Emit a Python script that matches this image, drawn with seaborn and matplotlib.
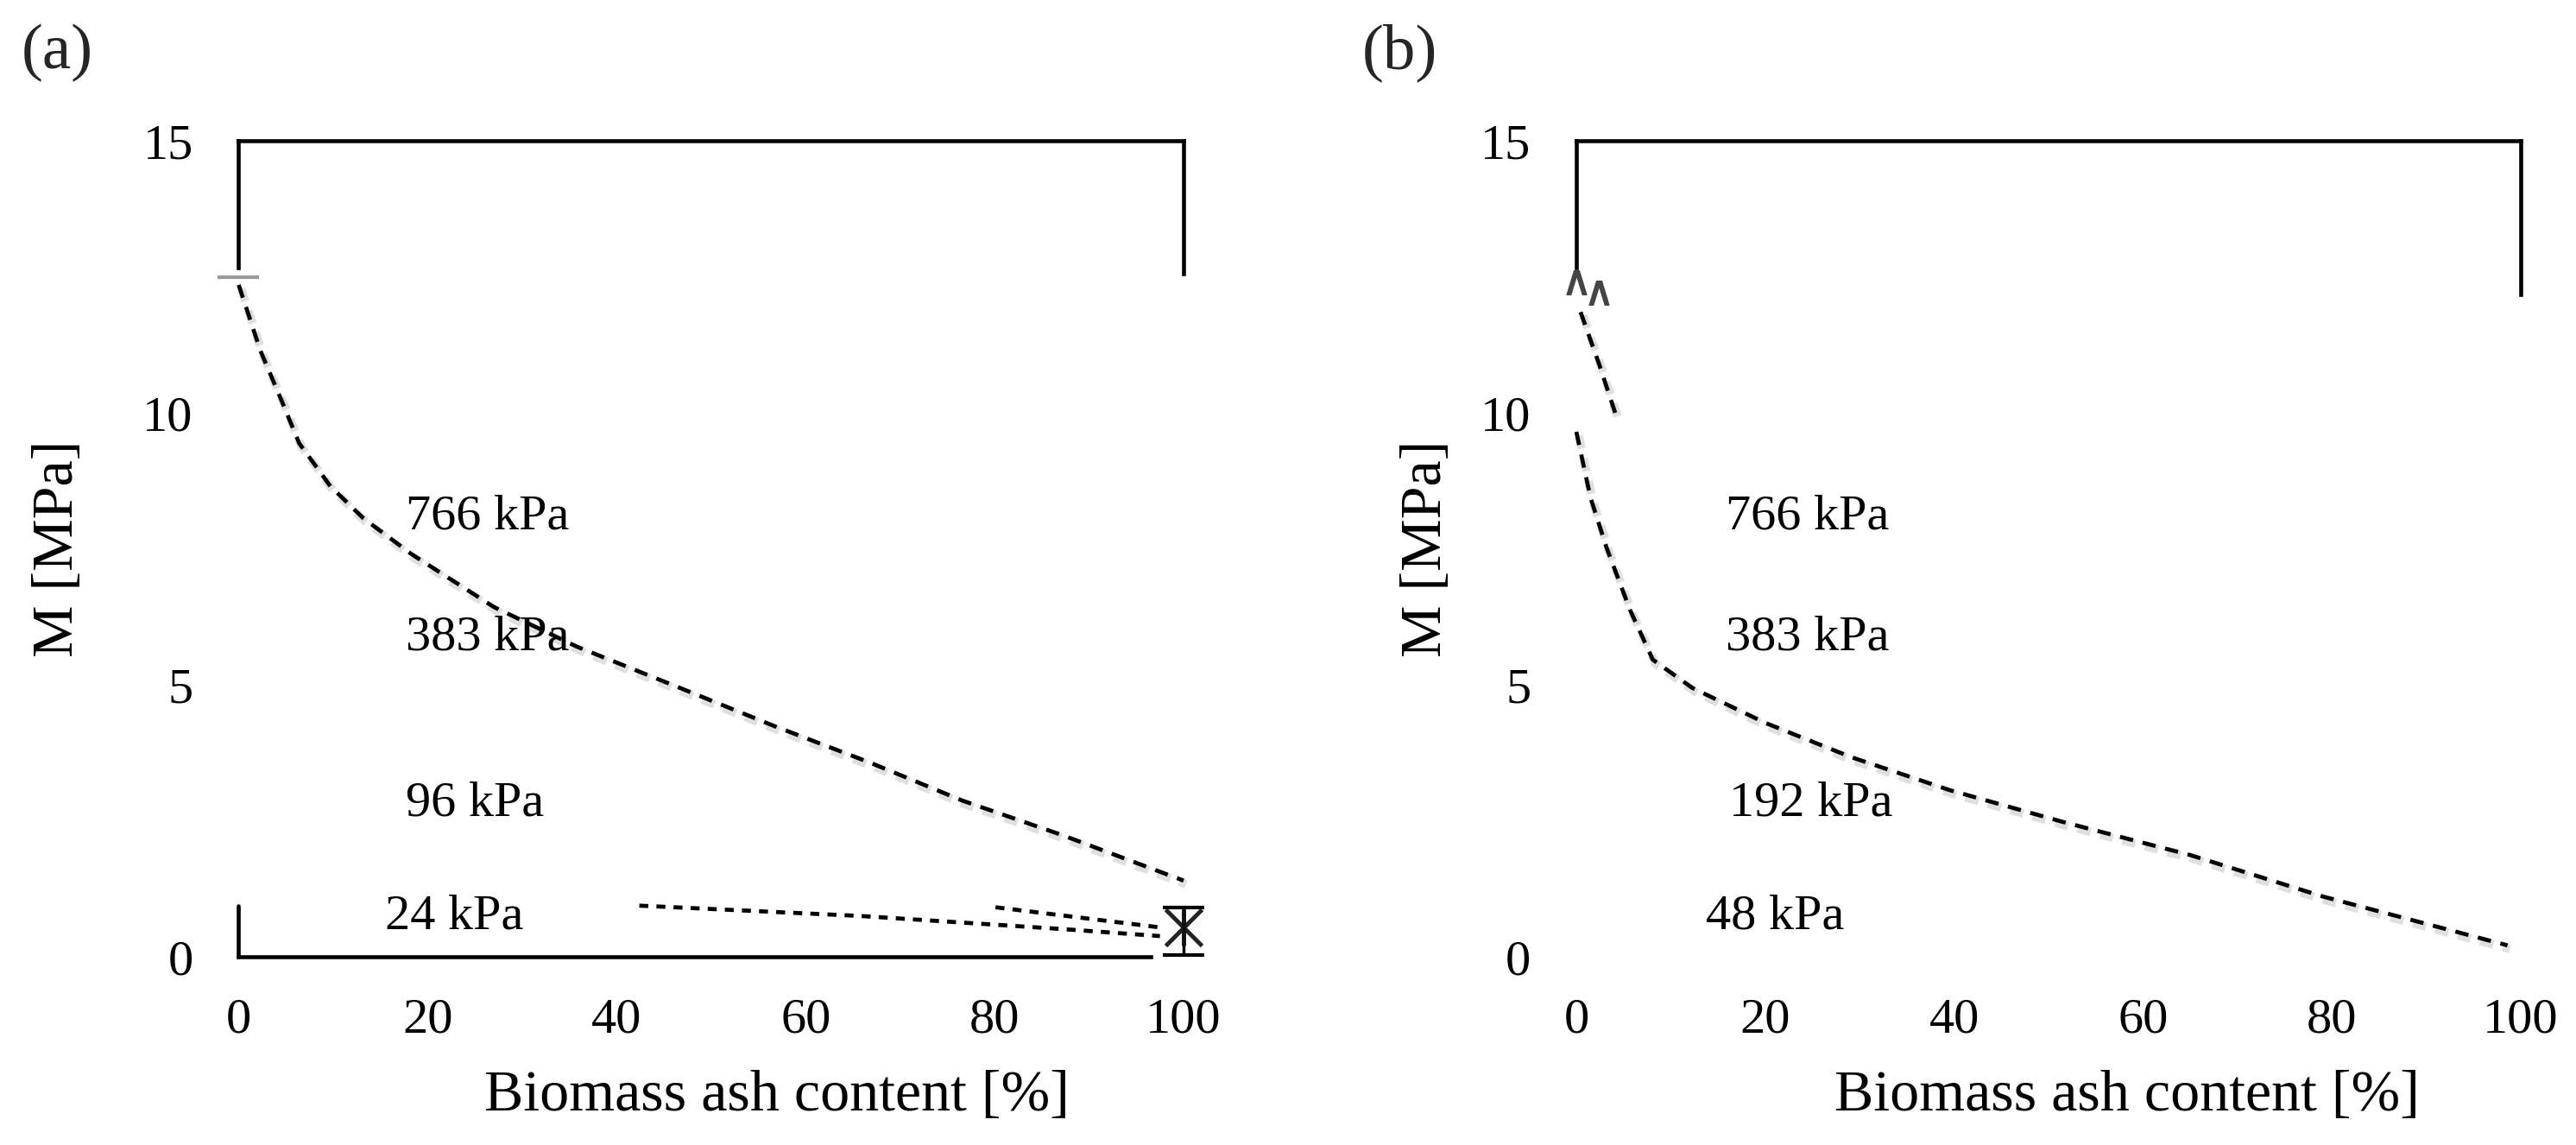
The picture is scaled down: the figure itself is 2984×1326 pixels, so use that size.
import numpy as np
import pandas as pd
import matplotlib
matplotlib.use("Agg")
import matplotlib.pyplot as plt
import matplotlib.patheffects as pe
import seaborn as sns

# Werte
ash_a_top = [0, 2.3, 4.5, 6.4, 9.7, 13.2, 18.3, 27, 35.8, 46.3, 56.7, 66.8, 76.6, 87.1, 100]
m_a_top = [12.35, 11.14, 10.24, 9.44, 8.65, 8.06, 7.4, 6.43, 5.7, 4.97, 4.24, 3.57, 2.87, 2.24, 1.40]

ash_a_low1 = [42.4, 65.8, 87.1, 97.5]
m_a_low1 = [0.94, 0.75, 0.51, 0.38]
ash_a_low2 = [80.1, 97.5]
m_a_low2 = [0.91, 0.54]

ash_a_point = [100]
m_a_point = [0.54]
m_a_err_low = [0.51]
m_a_err_high = [0.37]

ash_b_top = [0.45, 2.4, 4.3]
m_b_top = [11.85, 10.9, 9.9]
ash_b_main = [0, 1.5, 3.2, 5.7, 8.1, 12.3, 20.0, 29.1, 39.6, 51.5, 65, 79, 98.6]
m_b_main = [9.65, 8.44, 7.52, 6.37, 5.46, 4.94, 4.30, 3.67, 3.06, 2.48, 1.87, 1.11, 0.21]
ash_b_marks = [0, 2.4]
m_b_marks = [12.4, 12.2]

labels_a = ["766 kPa", "383 kPa", "96 kPa", "24 kPa"]
labels_b = ["766 kPa", "383 kPa", "192 kPa", "48 kPa"]
label_x_a = [17.7, 17.7, 17.7, 15.5]
label_x_b = [15.8, 15.8, 16.2, 13.7]
label_y = [7.86, 5.64, 2.60, 0.51]

x_ticks = [0, 20, 40, 60, 80, 100]
y_ticks = [0, 5, 10, 15]

sns.set_theme(style="white")
plt.rcParams['font.family'] = ['Liberation Serif', 'DejaVu Serif']

fig = plt.figure(figsize=(29.84, 13.26), dpi=100)
ax_a = fig.add_axes([0.09266, 0.16440, 0.3668, 0.71267])
ax_b = fig.add_axes([0.61193, 0.16440, 0.3666, 0.71267])

shadow = [pe.SimpleLineShadow(offset=(2, -3), shadow_color='gray', alpha=0.25, linewidth=7), pe.Normal()]
dash_long = (0, (3.3, 2.4))
dash_short = (0, (2.2, 2.0))
lw = 3.4

# (a)
sns.lineplot(x=ash_a_top, y=m_a_top, ax=ax_a, color='black', linewidth=lw,
             linestyle=dash_long, sort=False, estimator=None, clip_on=False, path_effects=shadow)
sns.lineplot(x=ash_a_low1, y=m_a_low1, ax=ax_a, color='black', linewidth=lw,
             linestyle=dash_short, sort=False, estimator=None, clip_on=False)
sns.lineplot(x=ash_a_low2, y=m_a_low2, ax=ax_a, color='black', linewidth=lw,
             linestyle=dash_short, sort=False, estimator=None, clip_on=False)
eb = ax_a.errorbar(ash_a_point, m_a_point, yerr=[m_a_err_low, m_a_err_high], fmt='none',
                   ecolor='black', elinewidth=2.5, capsize=17, capthick=3, clip_on=False)
for cap in eb[1]:
    cap.set_color('#8a8a8a')
    cap.set_clip_on(False)
ax_a.plot(ash_a_point, m_a_point, marker='x', markersize=30, markeredgewidth=3.5,
          color='#222222', linestyle='none', clip_on=False)
ax_a.plot(ash_a_point, m_a_point, marker='|', markersize=30, markeredgewidth=3.5,
          color='#111111', linestyle='none', clip_on=False)
ax_a.plot([ash_a_top[0]], [12.5], marker='_', markersize=34, markeredgewidth=3,
          color='#9a9a9a', linestyle='none', clip_on=False)

# (b)
sns.lineplot(x=ash_b_top, y=m_b_top, ax=ax_b, color='black', linewidth=lw,
             linestyle=dash_long, sort=False, estimator=None, clip_on=False, path_effects=shadow)
sns.lineplot(x=ash_b_main, y=m_b_main, ax=ax_b, color='black', linewidth=lw,
             linestyle=dash_long, sort=False, estimator=None, clip_on=False, path_effects=shadow)
ax_b.plot(ash_b_marks, m_b_marks, marker=r'$\wedge$', markersize=20, color='#444444',
          linestyle='none', clip_on=False)

for ax, labels, lx in [(ax_a, labels_a, label_x_a), (ax_b, labels_b, label_x_b)]:
    ax.set_xlim(0, 100)
    ax.set_ylim(0, 15)
    ax.set_xticks(x_ticks)
    ax.set_yticks(y_ticks)
    ax.tick_params(axis='both', length=0, labelsize=42, colors='black')
    ax.tick_params(axis='y', pad=38)
    ax.tick_params(axis='x', pad=34)
    ax.set_xlabel("Biomass ash content [%]", fontsize=49, color='black')
    ax.set_ylabel("M [MPa]", fontsize=49, color='black')
    ax.grid(False)
    ax.set_facecolor('none')
    for s in ax.spines.values():
        s.set_color('black')
        s.set_linewidth(3.3)
    ax.spines['left'].set_bounds(12.67, 15)
    for txt, x, y in zip(labels, lx, label_y):
        ax.text(x, y, txt, fontsize=42, ha='left', va='baseline', color='black')

ax_a.spines['right'].set_bounds(12.55, 15)
ax_a.spines['bottom'].set_bounds(0, 96.5)
ax_a.axvline(0, ymin=0, ymax=0.94 / 15, color='black', linewidth=3.3, clip_on=False)
ax_b.spines['right'].set_bounds(12.17, 15)
ax_b.spines['bottom'].set_visible(False)

ax_a.xaxis.set_label_coords(0.57, -0.139)
ax_b.xaxis.set_label_coords(0.583, -0.139)
ax_a.yaxis.set_label_coords(-0.163, 0.5)
ax_b.yaxis.set_label_coords(-0.131, 0.5)

fig.text(25 / 2984, 1 - 79 / 1326, "(a)", fontsize=54, va='baseline', ha='left')
fig.text(1578 / 2984, 1 - 79 / 1326, "(b)", fontsize=54, va='baseline', ha='left')

fig.savefig("out.png", dpi=100)
